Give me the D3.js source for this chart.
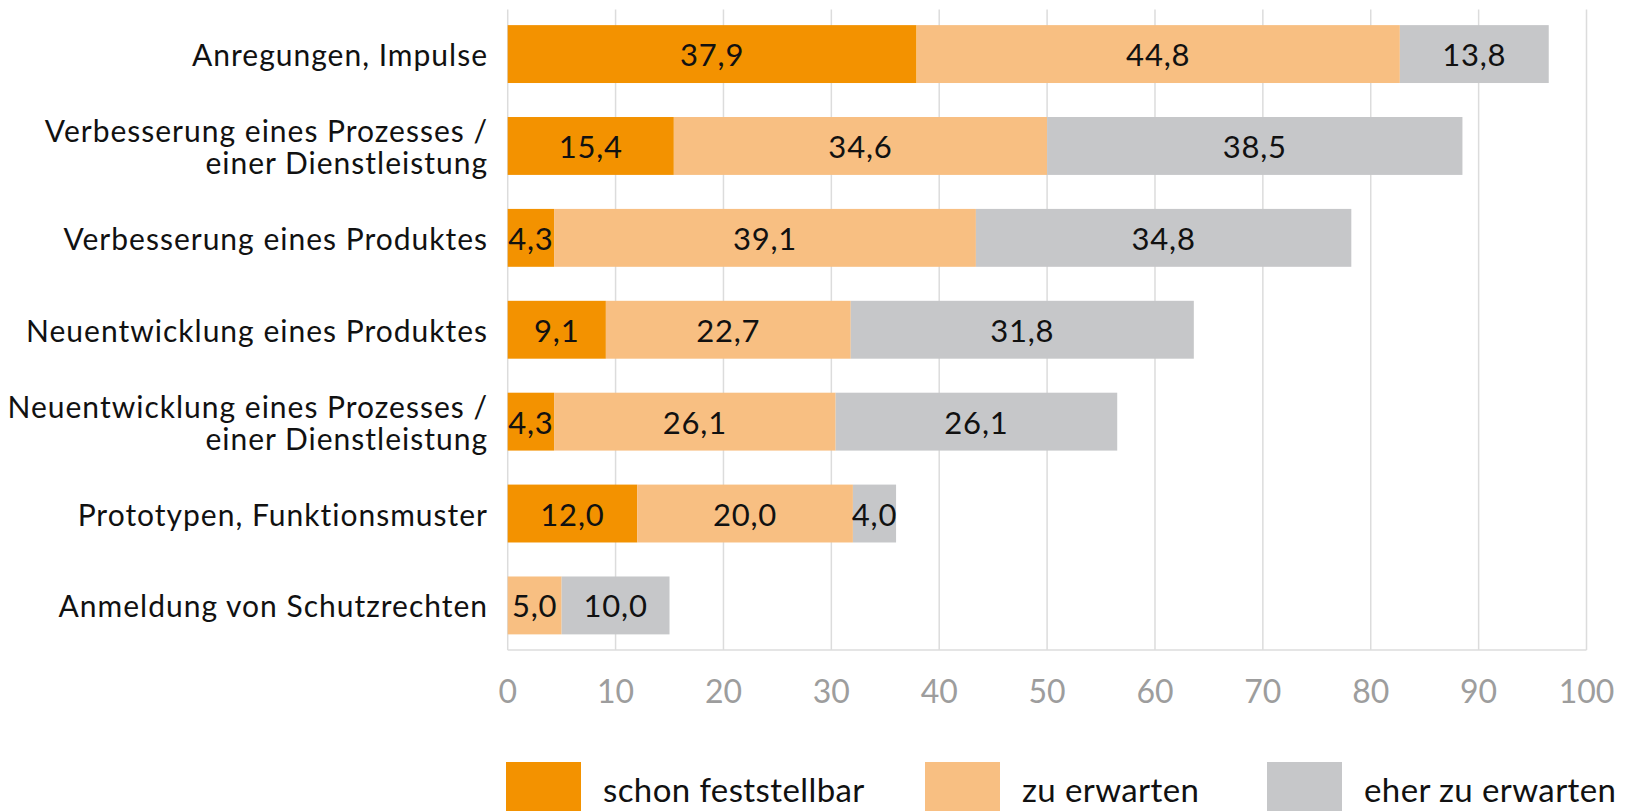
<!DOCTYPE html>
<html>
<head>
<meta charset="utf-8">
<script src="https://cdn.jsdelivr.net/npm/d3@7"></script>
<style>
  html, body { margin: 0; padding: 0; background: #fff; }
  svg { display: block; font-family: Lato, "Open Sans", sans-serif; }
</style>
</head>
<body>
<svg id="chart"></svg>
<script>
// categories, top to bottom (each entry = label lines)
let categories = [
    ['Anregungen, Impulse'],
    ['Verbesserung eines Prozesses /', 'einer Dienstleistung'],
    ['Verbesserung eines Produktes'],
    ['Neuentwicklung eines Produktes'],
    ['Neuentwicklung eines Prozesses /', 'einer Dienstleistung'],
    ['Prototypen, Funktionsmuster'],
    ['Anmeldung von Schutzrechten']
];
let seriesNames = ['schon feststellbar', 'zu erwarten', 'eher zu erwarten'];
let schonFeststellbar = [37.9, 15.4, 4.3, 9.1, 4.3, 12.0, 0];
let zuErwarten = [44.8, 34.6, 39.1, 22.7, 26.1, 20.0, 5.0];
let eherZuErwarten = [13.8, 38.5, 34.8, 31.8, 26.1, 4.0, 10.0];
let xTicks = [0, 10, 20, 30, 40, 50, 60, 70, 80, 90, 100];

let colors = ['#f39200', '#f8bf82', '#c6c7c9'];

let width = 1628;
let height = 811;

let svg = d3.select('#chart')
    .attr('width', width)
    .attr('height', height);

let rows = categories.map(function (c, i) {
    return {
        id: i,
        label: c,
        values: [schonFeststellbar[i], zuErwarten[i], eherZuErwarten[i]]
    };
});

let xScale = d3.scaleLinear()
    .domain([0, 100])
    .range([507.7, 1586.5]);

let yScale = d3.scaleBand()
    .domain(rows.map(d => d.id))
    .range([9.5, 650])
    .paddingInner(0.37)
    .paddingOuter(0.17);

// grid lines
svg.append('g')
    .selectAll('line')
    .data(xTicks)
    .enter().append('line')
    .attr('x1', d => xScale(d))
    .attr('x2', d => xScale(d))
    .attr('y1', 9.5)
    .attr('y2', 650)
    .attr('stroke', '#dcdcdc')
    .attr('stroke-width', 1.5);

// bottom axis line
svg.append('line')
    .attr('x1', xScale(0))
    .attr('x2', xScale(100))
    .attr('y1', 650)
    .attr('y2', 650)
    .attr('stroke', '#dcdcdc')
    .attr('stroke-width', 1.5);

// x tick labels
svg.append('g')
    .selectAll('text')
    .data(xTicks)
    .enter().append('text')
    .attr('x', d => xScale(d))
    .attr('y', 690)
    .attr('text-anchor', 'middle')
    .attr('dominant-baseline', 'central')
    .attr('fill', '#9d9d9d')
    .style('font-size', '32px')
    .text(d => d);

// stacked segments
let segments = [];
rows.forEach(function (r) {
    let x0 = 0;
    r.values.forEach(function (v, k) {
        segments.push({row: r.id, k: k, x0: x0, x1: x0 + v, value: v});
        x0 += v;
    });
});

let bars = svg.append('g');
bars.selectAll('rect')
    .data(segments.filter(d => d.value > 0))
    .enter().append('rect')
    .attr('x', d => xScale(d.x0))
    .attr('y', d => yScale(d.row))
    .attr('width', d => xScale(d.x1) - xScale(d.x0))
    .attr('height', yScale.bandwidth())
    .attr('fill', d => colors[d.k]);

bars.selectAll('text')
    .data(segments.filter(d => d.value > 0))
    .enter().append('text')
    .attr('x', d => (xScale(d.x0) + xScale(d.x1)) / 2)
    .attr('y', d => yScale(d.row) + yScale.bandwidth() / 2)
    .attr('text-anchor', 'middle')
    .attr('dominant-baseline', 'central')
    .attr('fill', '#111')
    .style('font-size', '31px')
    .style('letter-spacing', '0.8px')
    .text(d => d.value.toFixed(1).replace('.', ','));

// category labels
let lineHeight = 32;
let labels = svg.append('g')
    .selectAll('text')
    .data(rows)
    .enter().append('text')
    .attr('text-anchor', 'end')
    .attr('fill', '#111')
    .style('font-size', '30px')
    .style('letter-spacing', '1px');

labels.each(function (d) {
    let cy = yScale(d.id) + yScale.bandwidth() / 2;
    let n = d.label.length;
    d3.select(this).selectAll('tspan')
        .data(d.label)
        .enter().append('tspan')
        .attr('x', 488)
        .attr('y', (l, i) => cy + (i - (n - 1) / 2) * lineHeight)
        .attr('dominant-baseline', 'central')
        .text(l => l);
});

// legend
let legendX = [506, 925, 1267];
let legend = svg.append('g')
    .selectAll('g')
    .data(seriesNames)
    .enter().append('g')
    .attr('transform', (d, i) => 'translate(' + legendX[i] + ',762)');

legend.append('rect')
    .attr('width', 75)
    .attr('height', 75)
    .attr('fill', (d, i) => colors[i]);

legend.append('text')
    .attr('x', 97)
    .attr('y', 27)
    .attr('dominant-baseline', 'central')
    .attr('fill', '#111')
    .style('font-size', '33px')
    .style('letter-spacing', '0.4px')
    .text(d => d);
</script>
</body>
</html>
